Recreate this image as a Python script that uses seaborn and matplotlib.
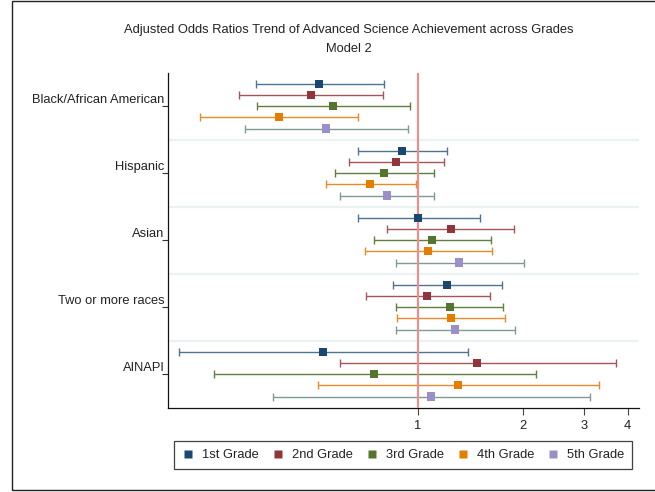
import numpy as np
import pandas as pd
import matplotlib
matplotlib.use("Agg")
import matplotlib.pyplot as plt
from matplotlib.lines import Line2D
from matplotlib.patches import Rectangle
import seaborn as sns

# ---------------- data ----------------
groups = ["Black/African American", "Hispanic", "Asian", "Two or more races", "AINAPI"]
grades = ["1st Grade", "2nd Grade", "3rd Grade", "4th Grade", "5th Grade"]

or_1st = [0.522, 0.903, 1.004, 1.216, 0.536]
lo_1st = [0.343, 0.674, 0.673, 0.848, 0.207]
hi_1st = [0.799, 1.213, 1.509, 1.741, 1.391]

or_2nd = [0.495, 0.868, 1.248, 1.066, 1.482]
lo_2nd = [0.308, 0.634, 0.818, 0.710, 0.597]
hi_2nd = [0.795, 1.190, 1.892, 1.609, 3.695]

or_3rd = [0.573, 0.802, 1.102, 1.240, 0.751]
lo_3rd = [0.346, 0.579, 0.751, 0.868, 0.261]
hi_3rd = [0.952, 1.111, 1.623, 1.760, 2.179]

or_4th = [0.401, 0.731, 1.073, 1.248, 1.308]
lo_4th = [0.238, 0.545, 0.706, 0.874, 0.518]
hi_4th = [0.673, 0.991, 1.636, 1.783, 3.317]

or_5th = [0.547, 0.818, 1.316, 1.282, 1.094]
lo_5th = [0.319, 0.599, 0.865, 0.867, 0.385]
hi_5th = [0.938, 1.116, 2.018, 1.905, 3.119]

x_ticks = [1, 2, 3, 4]
x_ticklabels = ["1", "2", "3", "4"]

# ---------------- styles ----------------
marker_colors = ["#1a476f", "#90353b", "#55752f", "#e37e00", "#9a8fc8"]
ci_colors = ["#4f7393", "#a5545a", "#5f7f3e", "#e88a2a", "#7f9a92"]

sns.set_theme(style="white")
plt.rcParams["font.family"] = ["Liberation Sans", "DejaVu Sans"]
FS = 9.3

ors = [or_1st, or_2nd, or_3rd, or_4th, or_5th]
los = [lo_1st, lo_2nd, lo_3rd, lo_4th, lo_5th]
his = [hi_1st, hi_2nd, hi_3rd, hi_4th, hi_5th]

rows = []
for gi, grade in enumerate(grades):
    for ri, grp in enumerate(groups):
        rows.append(dict(group=grp, grade=grade, OR=ors[gi][ri], lo=los[gi][ri], hi=his[gi][ri],
                         y=ri + (gi - 2) / 6.0))
df = pd.DataFrame(rows)

W, H = 655, 492
fig = plt.figure(figsize=(W / 100, H / 100), dpi=100)
ax = fig.add_axes([168.3 / W, 1 - 407.7 / H, (639 - 168.3) / W, (407.7 - 72.7) / H])

ax.set_xscale("log")
ax.set_xlim(0.1927, 4.31)
ax.set_ylim(4.5, -0.5)

# separators
for yy in [0.5, 1.5, 2.5, 3.5]:
    ax.axhline(yy, color="#eaf2f3", lw=1.6, zorder=0)

# CIs
for gi, grade in enumerate(grades):
    sub = df[df["grade"] == grade]
    ax.errorbar(sub["OR"], sub["y"],
                xerr=[sub["OR"] - sub["lo"], sub["hi"] - sub["OR"]],
                fmt="none", ecolor=ci_colors[gi], elinewidth=1.0, capsize=2.6, capthick=1.0, zorder=2)

# reference line
ax.axvline(1, color="#f28a8a", lw=1.5, zorder=3)

# markers
sns.scatterplot(data=df, x="OR", y="y", hue="grade", hue_order=grades, palette=marker_colors,
                marker="s", s=34, linewidth=0, edgecolor="none", legend=False, ax=ax, zorder=4)

ax.set_xlabel("")
ax.set_ylabel("")
ax.set_xticks(x_ticks)
ax.set_xticklabels(x_ticklabels, fontsize=FS)
ax.xaxis.set_minor_locator(matplotlib.ticker.NullLocator())
ax.set_yticks(range(len(groups)))
ax.set_yticklabels(groups, fontsize=FS)
for lab in ax.get_yticklabels():
    lab.set_verticalalignment("bottom")
ax.tick_params(axis="x", bottom=True, length=5, width=0.8, color="#444444", pad=3.5, labelcolor="#222222")
ax.tick_params(axis="y", left=True, length=4.3, width=0.8, color="#333333", pad=-1.5, labelcolor="#222222")

for s in ["top", "right"]:
    ax.spines[s].set_visible(False)
for s in ["left", "bottom"]:
    ax.spines[s].set_color("#111111")
    ax.spines[s].set_linewidth(0.9)

fig.text(348.5 / W, 1 - 30 / H, "Adjusted Odds Ratios Trend of Advanced Science Achievement across Grades",
         ha="center", va="center", fontsize=FS, color="#222222")
fig.text(348.5 / W, 1 - 49 / H, "Model 2", ha="center", va="center", fontsize=FS, color="#222222")

handles = [Line2D([0], [0], marker="s", linestyle="none", markersize=5.6,
                  markerfacecolor=c, markeredgecolor="none") for c in marker_colors]
leg = fig.legend(handles, grades, loc="lower left",
                 bbox_to_anchor=(174 / W, 1 - 469 / H, (632 - 174) / W, 27 / H),
                 mode="expand", ncol=5, fontsize=FS, frameon=True, fancybox=False,
                 handlelength=1.0, handletextpad=0.6, borderaxespad=0, borderpad=0.6,
                 columnspacing=1.0)
leg.get_frame().set_edgecolor("#111111")
leg.get_frame().set_linewidth(0.9)
for t in leg.get_texts():
    t.set_color("#222222")

# outer frame (right edge lies outside the image)
fig.patches.append(Rectangle((12 / W, 1 - 490 / H), (670 - 12) / W, (489 / H),
                             transform=fig.transFigure, fill=False, edgecolor="#222222", lw=1.0))

fig.savefig("out.png", dpi=100)
